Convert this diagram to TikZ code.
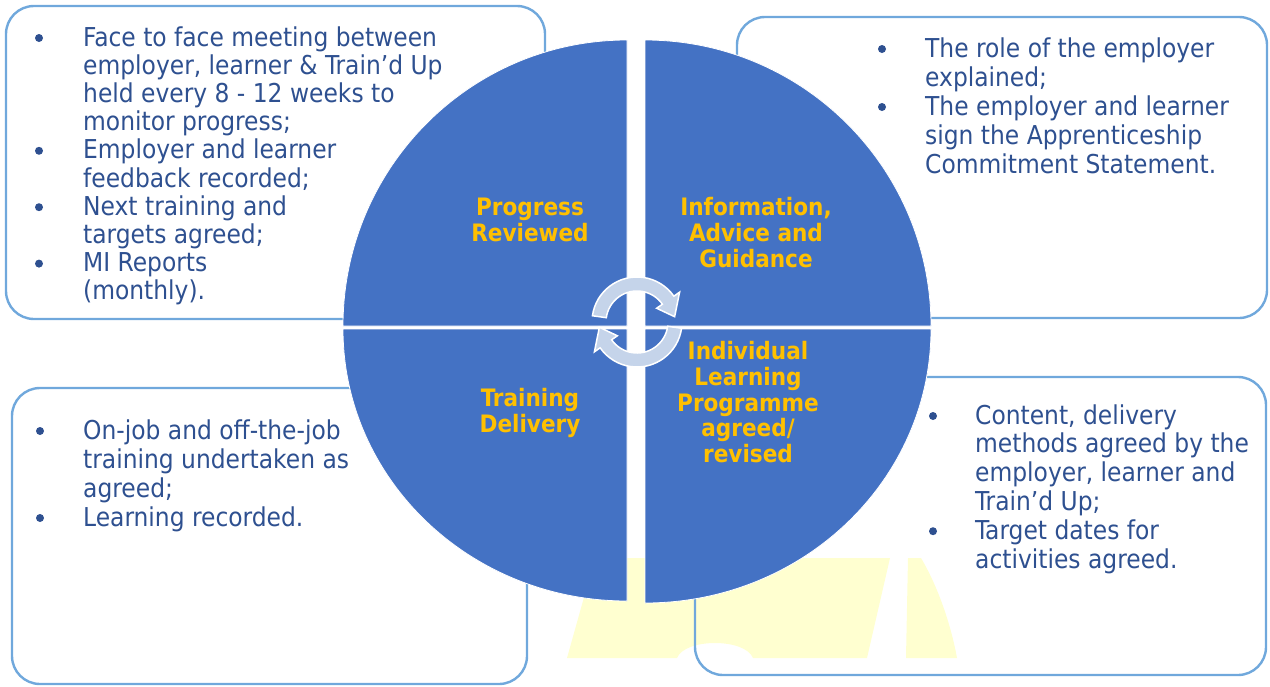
\documentclass[tikz,border=0pt]{standalone}
\usepackage{fontspec}
\setmainfont{DejaVu Sans Condensed}
\definecolor{boxline}{RGB}{112,168,220}
\definecolor{quadfill}{RGB}{68,114,196}
\definecolor{labelyellow}{RGB}{255,192,0}
\definecolor{bodyblue}{RGB}{46,80,144}
\definecolor{arrowfill}{RGB}{197,212,234}
\definecolor{paleyellow}{RGB}{255,255,208}
\tikzset{
  infobox/.style={draw=boxline, line width=2.4pt, rounded corners=28pt},
  quad/.style={fill=quadfill, draw=white, line width=0.8pt},
  bodytext/.style={anchor=base west, inner sep=0pt, text=bodyblue, font=\fontsize{26}{28}\selectfont},
  quadlabel/.style={anchor=base, inner sep=0pt, text=labelyellow, font=\fontsize{24}{26}\selectfont\bfseries},
  bulletdot/.style={circle, fill=bodyblue, minimum size=8pt, inner sep=0pt},
  cyclearrow/.style={fill=arrowfill, draw=white, line width=1.5pt, line join=miter}
}
\begin{document}
\begin{tikzpicture}[x=1pt,y=-1pt]
\useasboundingbox (0,0) rectangle (1270,686);
% faint background logo
\fill[paleyellow] (595,558) -- (890,558) -- (867,658) -- (753,658) .. controls (745,638) and (685,638) .. (677,658) -- (567,658) -- cycle;
\fill[paleyellow] (908,558) -- (921,558) .. controls (940,590) and (952,630) .. (957,658) -- (906,658) -- cycle;
% boxes
\draw[infobox] (6,6) rectangle (545,319);
\draw[infobox] (737,17) rectangle (1267,318);
\draw[infobox] (12,388) rectangle (527,684);
\draw[infobox] (695,377) rectangle (1266,675);
% quadrants
\path[quad] (627,326) -- (343,326) arc[start angle=180, end angle=270, x radius=284, y radius=286] -- cycle;
\path[quad] (645,326) -- (645,40) arc[start angle=270, end angle=360, x radius=286, y radius=286] -- cycle;
\path[quad] (627,329) -- (627,601) arc[start angle=90, end angle=180, x radius=284, y radius=272] -- cycle;
\path[quad] (645,329) -- (931,329) arc[start angle=0, end angle=90, x radius=286, y radius=274] -- cycle;
% cycle arrows
\coordinate (ac) at (637,322);
\path[cyclearrow] ([shift={(188:45)}]ac) arc[start angle=188, end angle=325, radius=45]
  -- ([shift={(325:52)}]ac) -- ([shift={(352:38)}]ac) -- ([shift={(325:24)}]ac)
  -- ([shift={(325:31)}]ac) arc[start angle=325, end angle=188, radius=31] -- cycle;
\path[cyclearrow] ([shift={(8:45)}]ac) arc[start angle=8, end angle=145, radius=45]
  -- ([shift={(145:52)}]ac) -- ([shift={(172:38)}]ac) -- ([shift={(145:24)}]ac)
  -- ([shift={(145:31)}]ac) arc[start angle=145, end angle=8, radius=31] -- cycle;
% quadrant labels
\node[quadlabel] (pr1) at (530,215) {Progress};
\node[quadlabel] (pr2) at (530,241) {Reviewed};
\node[quadlabel] (ia1) at (756,215) {Information,};
\node[quadlabel] (ia2) at (756,241) {Advice and};
\node[quadlabel] (ia3) at (756,267) {Guidance};
\node[quadlabel] (td1) at (530,406) {Training};
\node[quadlabel] (td2) at (530,432) {Delivery};
\node[quadlabel] (il1) at (748,359) {Individual};
\node[quadlabel] (il2) at (748,385) {Learning};
\node[quadlabel] (il3) at (748,411) {Programme};
\node[quadlabel] (il4) at (748,436) {agreed/};
\node[quadlabel] (il5) at (748,462) {revised};
% top-left text
\node[bulletdot] (btl1) at (39,38) {};
\node[bodytext] (tl1) at (83,46) {Face to face meeting between};
\node[bodytext] (tl2) at (83,74.2) {employer, learner \& Train’d Up};
\node[bodytext] (tl3) at (83,102.4) {held every 8 - 12 weeks to};
\node[bodytext] (tl4) at (83,130.6) {monitor progress;};
\node[bulletdot] (btl2) at (39,150.8) {};
\node[bodytext] (tl5) at (83,158.8) {Employer and learner};
\node[bodytext] (tl6) at (83,187) {feedback recorded;};
\node[bulletdot] (btl3) at (39,207.2) {};
\node[bodytext] (tl7) at (83,215.2) {Next training and};
\node[bodytext] (tl8) at (83,243.4) {targets agreed;};
\node[bulletdot] (btl4) at (39,263.6) {};
\node[bodytext] (tl9) at (83,271.6) {MI Reports};
\node[bodytext] (tl10) at (83,299.8) {(monthly).};
% top-right text
\node[bulletdot] (btr1) at (882,49) {};
\node[bodytext] (tr1) at (925,57) {The role of the employer};
\node[bodytext] (tr2) at (925,86) {explained;};
\node[bulletdot] (btr2) at (882,107) {};
\node[bodytext] (tr3) at (925,115) {The employer and learner};
\node[bodytext] (tr4) at (925,144) {sign the Apprenticeship};
\node[bodytext] (tr5) at (925,173) {Commitment Statement.};
% bottom-left text
\node[bulletdot] (bbl1) at (40,431) {};
\node[bodytext] (bl1) at (83,439) {On-job and off-the-job};
\node[bodytext] (bl2) at (83,468) {training undertaken as};
\node[bodytext] (bl3) at (83,497) {agreed;};
\node[bulletdot] (bbl2) at (40,518) {};
\node[bodytext] (bl4) at (83,526) {Learning recorded.};
% bottom-right text
\node[bulletdot] (bbr1) at (933,416) {};
\node[bodytext] (br1) at (975,424) {Content, delivery};
\node[bodytext] (br2) at (975,452.8) {methods agreed by the};
\node[bodytext] (br3) at (975,481.6) {employer, learner and};
\node[bodytext] (br4) at (975,510.4) {Train’d Up;};
\node[bulletdot] (bbr2) at (933,531.2) {};
\node[bodytext] (br5) at (975,539.2) {Target dates for};
\node[bodytext] (br6) at (975,568) {activities agreed.};
\end{tikzpicture}
\end{document}
